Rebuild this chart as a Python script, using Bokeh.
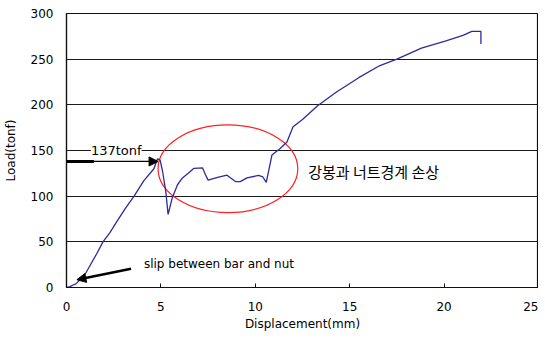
from bokeh.plotting import figure
from bokeh.models import Arrow, NormalHead, Label, FixedTicker, Range1d
from bokeh.embed import file_html
from bokeh.resources import INLINE

# Load-displacement curve (mm, tonf)
disp = [0.0, 0.2, 0.37, 0.5, 0.79, 1.0, 1.3, 1.6, 1.93, 2.3, 2.63, 3.1, 3.58, 4.1, 4.63,
        4.82, 4.96, 5.09, 5.26, 5.38, 5.6, 5.88, 6.14, 6.45, 6.75, 7.2, 7.35, 7.5, 8.0,
        8.5, 8.95, 9.2, 9.56, 10.17, 10.4, 10.58, 10.7, 10.88, 11.3, 11.67, 12.0, 12.5,
        13.3, 14.3, 15.5, 16.6, 17.5, 18.8, 20.1, 21.0, 21.47, 21.95, 21.95]
load = [0, 1, 3, 4, 10, 15, 26, 37, 50, 60, 71, 86, 100, 117, 130,
        141, 139.5, 127, 105, 80, 98, 112.5, 120, 125, 130.5, 131, 124, 117.6, 120.5,
        123, 116, 116, 120, 122.7, 121, 115, 127, 145, 152, 159, 176, 184,
        199, 214, 230, 243, 250, 262, 270, 276, 280.5, 280.5, 266.5]

x_ticks = [0, 5, 10, 15, 20, 25]
y_ticks = [0, 50, 100, 150, 200, 250, 300]

peak_label = "137tonf"
peak_load = 138
slip_label = "slip between bar and nut"
damage_label = "강봉과 너트경계  손상"

p = figure(width=538, height=333, output_backend="svg", toolbar_location=None,
           x_range=Range1d(0, 25), y_range=Range1d(0, 300),
           min_border_left=57, min_border_right=0, min_border_top=13, min_border_bottom=40)
p.background_fill_color = "white"
p.border_fill_color = "white"
p.outline_line_color = "#111111"
p.outline_line_width = 1.2

font = "DejaVu Sans"
p.xaxis.ticker = FixedTicker(ticks=x_ticks)
p.yaxis.ticker = FixedTicker(ticks=y_ticks)
p.xaxis.axis_label = "Displacement(mm)"
p.yaxis.axis_label = "Load(tonf)"
for ax in (p.xaxis, p.yaxis):
    ax.axis_line_color = "#111111"
    ax.axis_line_width = 1.2
    ax.minor_tick_line_color = None
    ax.major_label_text_font = font
    ax.major_label_text_font_size = "12px"
    ax.major_label_text_color = "black"
    ax.axis_label_text_font = font
    ax.axis_label_text_font_size = "12px"
    ax.axis_label_text_font_style = "normal"
    ax.axis_label_text_color = "black"
p.xaxis.major_tick_in = 4
p.xaxis.major_tick_out = 0
p.xaxis.major_tick_line_color = "#111111"
p.xaxis.major_label_standoff = 14
p.xaxis.axis_label_standoff = 3
p.yaxis.major_tick_in = 0
p.yaxis.major_tick_out = 0
p.yaxis.major_label_standoff = 13
p.yaxis.axis_label_standoff = 10

p.xgrid.grid_line_color = None
p.ygrid.grid_line_color = "#1a1a1a"
p.ygrid.grid_line_width = 1.2

# red ellipse marking damage zone
p.ellipse(x=8.55, y=130, width=7.4, height=96, fill_color=None,
          line_color="#ff2020", line_width=1.2)

# curve
p.line(disp, load, line_color="#2b2b9e", line_width=1.3)

# 137tonf annotation
p.add_layout(Label(x=1.45, y=150, text=peak_label, text_font=font, text_font_size="13px",
                   text_baseline="middle", text_color="black",
                   background_fill_color="white", x_offset=-3))
p.segment(x0=[0], y0=[peak_load], x1=[1.45], y1=[peak_load], line_color="black", line_width=3)
p.add_layout(Arrow(end=NormalHead(size=9, fill_color="black", line_color="black"),
                   x_start=0, y_start=peak_load, x_end=4.85, y_end=peak_load,
                   line_color="black", line_width=1.3))

# slip annotation
p.add_layout(Arrow(end=NormalHead(size=9, fill_color="black", line_color="black"),
                   x_start=3.42, y_start=20.5, x_end=0.55, y_end=8.5,
                   line_color="black", line_width=2.5))
p.add_layout(Label(x=4.1, y=26, text=slip_label, text_font=font, text_font_size="12px",
                   text_baseline="middle", text_color="black"))

# Korean annotation
p.add_layout(Label(x=12.8, y=127, text=damage_label, text_font="Noto Sans CJK KR",
                   text_font_size="15px", text_baseline="middle", text_color="black"))

open("out.html", "w").write(file_html(p, INLINE))
